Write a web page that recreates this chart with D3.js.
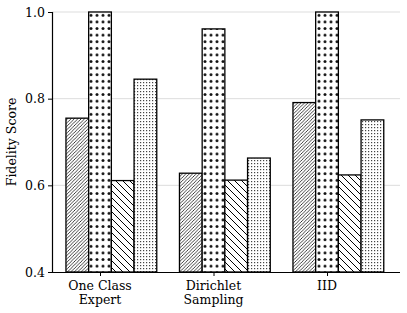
<!DOCTYPE html>
<html>
<head>
<meta charset="utf-8">
<script src="https://cdn.jsdelivr.net/npm/d3@7"></script>
<style>
  body { margin: 0; background: #fff; }
  text { font-family: "DejaVu Serif", serif; }
</style>
</head>
<body>
<div id="chart"></div>
<script>
let categories = [["One Class", "Expert"], ["Dirichlet", "Sampling"], ["IID"]];
let seriesA = [0.755, 0.628, 0.791];
let seriesB = [1.0, 0.961, 1.0];
let seriesC = [0.611, 0.612, 0.624];
let seriesD = [0.845, 0.663, 0.751];
let yTicks = [0.4, 0.6, 0.8, 1.0];

let allSeries = [seriesA, seriesB, seriesC, seriesD];
let patterns = ["hatchFine", "dotsBig", "hatchBack", "dotsFine"];

let width = 407, height = 313;
let margin = { top: 12, right: 7, bottom: 41, left: 52 };

let svg = d3.select("#chart").append("svg")
  .attr("width", width)
  .attr("height", height);

let defs = svg.append("defs");

// forward diagonal, dense
let p1 = defs.append("pattern").attr("id", "hatchFine")
  .attr("patternUnits", "userSpaceOnUse").attr("width", 3.4).attr("height", 3.4);
p1.append("rect").attr("width", 3.4).attr("height", 3.4).attr("fill", "#fff");
p1.append("path").attr("d", "M-1,1 l2,-2 M0,3.4 l3.4,-3.4 M2.4,4.4 l2,-2")
  .attr("stroke", "#000").attr("stroke-width", 0.75);

// big dots
let p2 = defs.append("pattern").attr("id", "dotsBig")
  .attr("patternUnits", "userSpaceOnUse").attr("width", 6).attr("height", 6.6);
p2.append("rect").attr("width", 6).attr("height", 6.6).attr("fill", "#fff");
p2.append("circle").attr("cx", 3).attr("cy", 3.3).attr("r", 1.5).attr("fill", "#111");

// back diagonal, sparse
let p3 = defs.append("pattern").attr("id", "hatchBack")
  .attr("patternUnits", "userSpaceOnUse").attr("width", 7).attr("height", 7);
p3.append("rect").attr("width", 7).attr("height", 7).attr("fill", "#fff");
p3.append("path").attr("d", "M-1,-1 l9,9 M-1,6 l2,2 M6,-1 l2,2")
  .attr("stroke", "#000").attr("stroke-width", 1);

// fine dots
let p4 = defs.append("pattern").attr("id", "dotsFine")
  .attr("patternUnits", "userSpaceOnUse").attr("width", 3).attr("height", 3);
p4.append("rect").attr("width", 3).attr("height", 3).attr("fill", "#fff");
p4.append("rect").attr("x", 1).attr("y", 1).attr("width", 1.2).attr("height", 1.2).attr("fill", "#444");

let innerW = width - margin.left - margin.right;
let innerH = height - margin.top - margin.bottom;

let g = svg.append("g")
  .attr("transform", "translate(" + margin.left + "," + margin.top + ")");

let x = d3.scaleLinear().domain([-0.423, 2.643]).range([0, innerW]);
let y = d3.scaleLinear().domain([0.4, 1.0]).range([innerH, 0]);

let barW = 0.2;

// grid
g.selectAll(".grid").data(yTicks.filter(d => d > 0.4)).enter().append("line")
  .attr("x1", 0).attr("x2", innerW)
  .attr("y1", d => y(d)).attr("y2", d => y(d))
  .attr("stroke", "#ddd").attr("stroke-width", 1);

allSeries.forEach((series, s) => {
  g.selectAll(".bar" + s).data(series).enter().append("rect")
    .attr("x", (d, i) => x(i + (s - 1) * barW - barW / 2))
    .attr("width", x(barW) - x(0))
    .attr("y", d => y(d))
    .attr("height", d => y(0.4) - y(d))
    .attr("fill", "url(#" + patterns[s] + ")")
    .attr("stroke", "#000")
    .attr("stroke-width", 1.3);
});

let yAxis = d3.axisLeft(y).tickValues(yTicks).tickFormat(d3.format(".1f")).tickSize(4).tickPadding(3);
let yG = g.append("g").call(yAxis);
yG.select(".domain").attr("d", "M0.5," + y(1.0) + "V" + innerH);

let xAxis = d3.axisBottom(x).tickValues([0, 1, 2]).tickFormat("").tickSize(4);
let xG = g.append("g").attr("transform", "translate(0," + innerH + ")").call(xAxis);
xG.select(".domain").attr("d", "M0,0.5H" + innerW);

svg.selectAll(".tick text").style("font-size", "12.5px").attr("fill", "#000");
svg.selectAll(".domain").attr("stroke", "#000").attr("stroke-width", 1.2);

categories.forEach((lines, i) => {
  let t = g.append("text")
    .attr("x", x(i))
    .attr("y", innerH + 18)
    .attr("text-anchor", "middle")
    .style("font-size", "12.5px");
  lines.forEach((l, k) => {
    t.append("tspan").attr("x", x(i)).attr("dy", k === 0 ? 0 : 14).text(l);
  });
});

svg.append("text")
  .attr("transform", "translate(16," + (margin.top + innerH / 2) + ") rotate(-90)")
  .attr("text-anchor", "middle")
  .style("font-size", "12.5px")
  .text("Fidelity Score");
</script>
</body>
</html>
